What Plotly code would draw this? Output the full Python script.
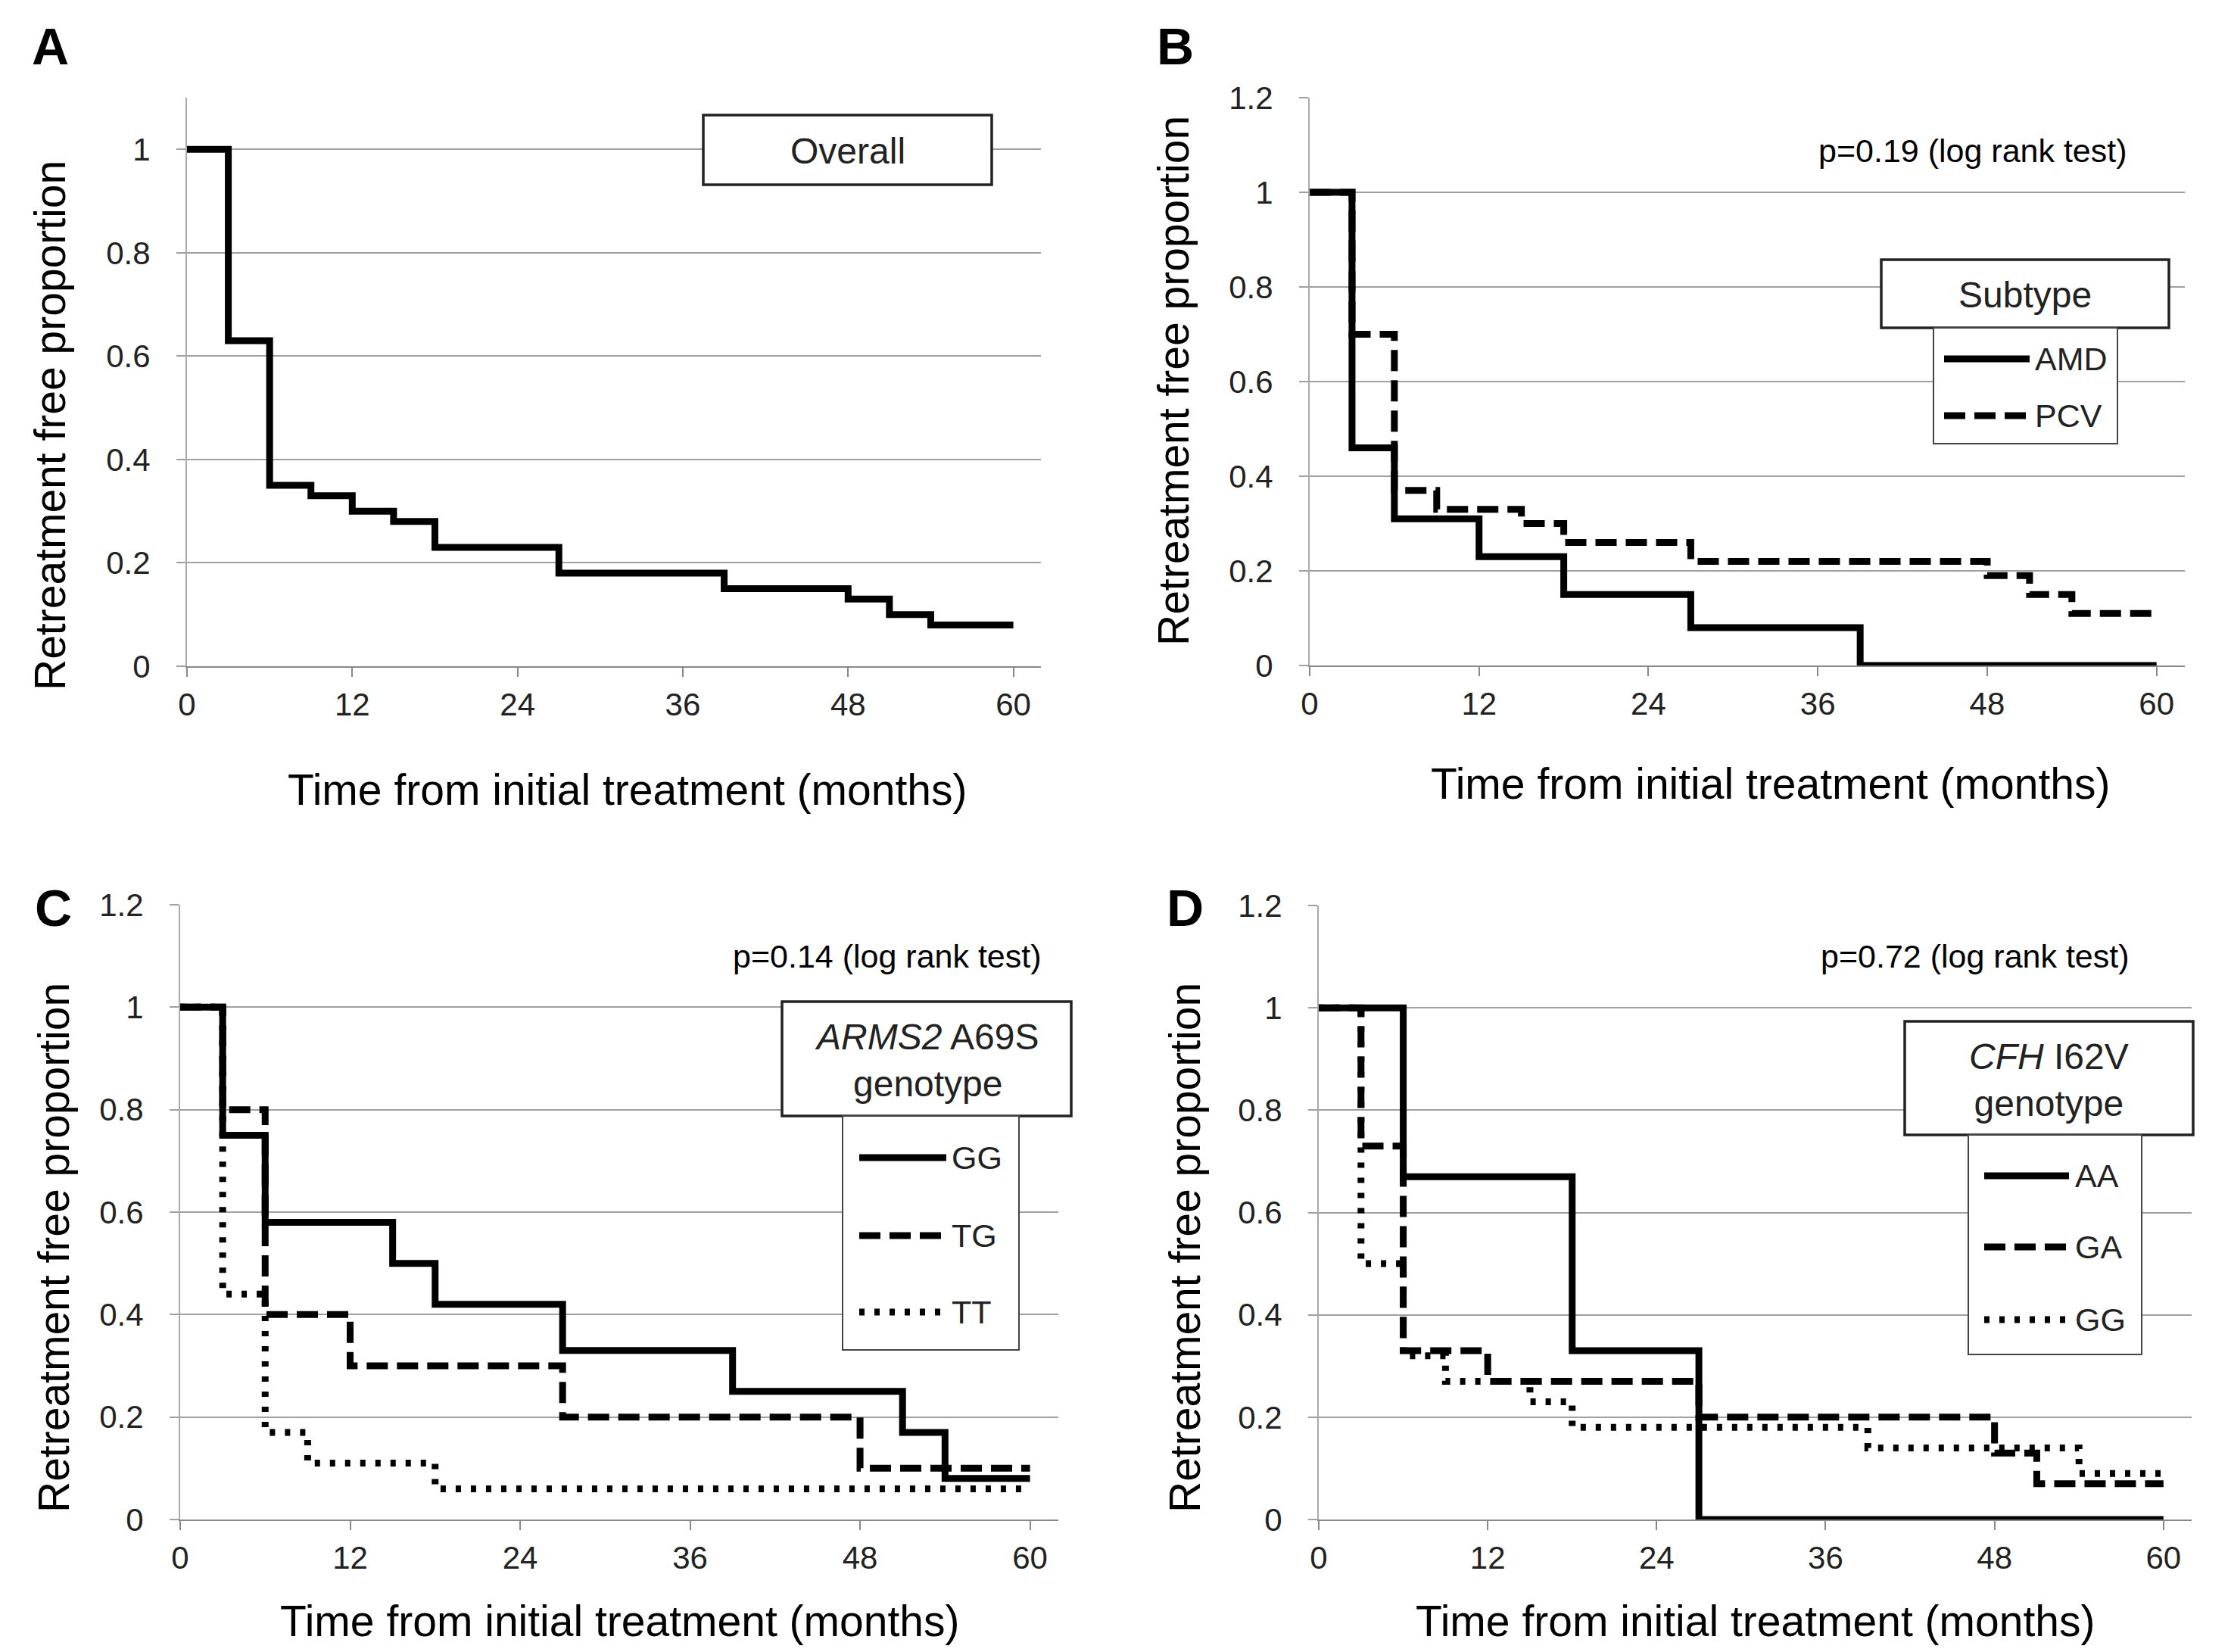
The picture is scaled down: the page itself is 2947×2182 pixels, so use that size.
import plotly.graph_objects as go

W, H = 2947, 2182
OFF = 8  # page body margin in the browser
FONT = "Liberation Sans, Arial, sans-serif"

# ---- data (months, retreatment-free proportion) ----
overall_t = [0, 3, 6, 9, 12, 15, 18, 27, 39, 48, 51, 54, 60]
overall_s = [1.0, 0.63, 0.35, 0.33, 0.30, 0.28, 0.23, 0.18, 0.15, 0.13, 0.10, 0.08, 0.08]

amd_t = [0, 3, 6, 12, 18, 27, 39, 60]
amd_s = [1.0, 0.46, 0.31, 0.23, 0.15, 0.08, 0.0, 0.0]
pcv_t = [0, 3, 6, 9, 15, 18, 27, 48, 51, 54, 60]
pcv_s = [1.0, 0.70, 0.37, 0.33, 0.30, 0.26, 0.22, 0.19, 0.15, 0.11, 0.11]

arms_gg_t = [0, 3, 6, 15, 18, 27, 39, 51, 54, 60]
arms_gg_s = [1.0, 0.75, 0.58, 0.50, 0.42, 0.33, 0.25, 0.17, 0.08, 0.08]
arms_tg_t = [0, 3, 6, 12, 27, 48, 60]
arms_tg_s = [1.0, 0.80, 0.40, 0.30, 0.20, 0.10, 0.10]
arms_tt_t = [0, 3, 6, 9, 18, 60]
arms_tt_s = [1.0, 0.44, 0.17, 0.11, 0.06, 0.06]

cfh_aa_t = [0, 6, 18, 27, 60]
cfh_aa_s = [1.0, 0.67, 0.33, 0.0, 0.0]
cfh_ga_t = [0, 3, 6, 12, 27, 48, 51, 60]
cfh_ga_s = [1.0, 0.73, 0.33, 0.27, 0.20, 0.13, 0.07, 0.07]
cfh_gg_t = [0, 3, 6, 9, 15, 18, 39, 54, 60]
cfh_gg_s = [1.0, 0.50, 0.32, 0.27, 0.23, 0.18, 0.14, 0.09, 0.09]

x_ticks = [0, 12, 24, 36, 48, 60]
y_ticks_a = [0, 0.2, 0.4, 0.6, 0.8, 1]
y_ticks = [0, 0.2, 0.4, 0.6, 0.8, 1, 1.2]
p_values = ["p=0.19 (log rank test)", "p=0.14 (log rank test)", "p=0.72 (log rank test)"]

DASH = {"solid": "solid", "dash": "28px,12px", "dot": "7px,13px"}
LW = 9

# panel geometry in pixels: plot left/right, top/bottom
panels = {
    "A": dict(x0=247, x1=1375, yt=129, yb=880, ymax=1.1, yt_vals=y_ticks_a),
    "B": dict(x0=1730, x1=2886, yt=129, yb=879, ymax=1.2, yt_vals=y_ticks),
    "C": dict(x0=238, x1=1398, yt=1195, yb=2007, ymax=1.2, yt_vals=y_ticks),
    "D": dict(x0=1742, x1=2895, yt=1196, yb=2007, ymax=1.2, yt_vals=y_ticks),
}

def px(x):
    return (x - OFF) / W

def py(y):
    return 1 - (y - OFF) / H

fig = go.Figure()

series = [
    ("A", overall_t, overall_s, "solid"),
    ("B", amd_t, amd_s, "solid"),
    ("B", pcv_t, pcv_s, "dash"),
    ("C", arms_gg_t, arms_gg_s, "solid"),
    ("C", arms_tg_t, arms_tg_s, "dash"),
    ("C", arms_tt_t, arms_tt_s, "dot"),
    ("D", cfh_aa_t, cfh_aa_s, "solid"),
    ("D", cfh_ga_t, cfh_ga_s, "dash"),
    ("D", cfh_gg_t, cfh_gg_s, "dot"),
]
axis_ids = {"A": "", "B": "2", "C": "3", "D": "4"}

for panel, t, s, style in series:
    n = axis_ids[panel]
    fig.add_trace(go.Scatter(
        x=t, y=s, mode="lines", line_shape="hv",
        line=dict(color="black", width=LW, dash=DASH[style]),
        xaxis="x" + n, yaxis="y" + n, showlegend=False, cliponaxis=False,
    ))

layout = {}
for key, g in panels.items():
    n = axis_ids[key]
    layout["xaxis" + n] = dict(
        domain=[px(g["x0"]), px(g["x1"])], range=[0, 62], automargin=False,
        tickvals=x_ticks, ticks="outside", ticklen=12, tickcolor="#888", tickwidth=2,
        showline=True, linecolor="#888", linewidth=2, showgrid=False, zeroline=False,
        tickfont=dict(family=FONT, size=42, color="#222"), ticklabelstandoff=1,
        anchor="y" + n,
    )
    yt = g["yt_vals"]
    layout["yaxis" + n] = dict(
        domain=[py(g["yb"]), py(g["yt"])], range=[0, g["ymax"]], automargin=False,
        tickvals=yt, ticktext=[("%g" % v) for v in yt],
        ticks="outside", ticklen=12, tickcolor="#a0a0a0", tickwidth=2,
        showline=True, linecolor="#aaa", linewidth=2,
        showgrid=True, gridcolor="#a0a0a0", gridwidth=2, zeroline=False,
        tickfont=dict(family=FONT, size=42, color="#222"), ticklabelstandoff=26,
        anchor="x" + n,
    )

annotations = []
shapes = []

def label(x, y, text, size, xanchor="center", angle=0, color="black"):
    annotations.append(dict(x=px(x), y=py(y), xref="paper", yref="paper", text=text,
                            xanchor=xanchor, yanchor="middle", textangle=angle,
                            showarrow=False, font=dict(family=FONT, size=size, color=color)))

# panel letters
for letter, (lx, ly) in {"A": (66, 61), "B": (1552, 61), "C": (71, 1199), "D": (1565, 1199)}.items():
    label(lx, ly, "<b>%s</b>" % letter, 68)

# axis titles
ytitle_pos = {"A": (66, 562), "B": (1550, 503), "C": (71, 1648), "D": (1565, 1648)}
xtitle_pos = {"A": (828, 1043), "B": (2338, 1035), "C": (818, 2141), "D": (2318, 2141)}
for key in panels:
    yx, yy = ytitle_pos[key]
    label(yx, yy, "Retreatment free proportion", 57, angle=-90)
    xx, xy = xtitle_pos[key]
    label(xx, xy, "Time from initial treatment (months)", 57)

# p values
for (rx, cy), txt in zip([(2812, 199), (1378, 1263), (2815, 1263)], p_values):
    label(rx, cy, txt, 43, xanchor="right")

# legend title boxes
title_boxes = [
    ((929, 152, 1310, 244), "Overall"),
    ((2485, 343, 2865, 433), "Subtype"),
    ((1033, 1323, 1415, 1474), "<i>ARMS2</i> A69S<br>genotype"),
    ((2516, 1349, 2897, 1499), "<i>CFH</i> I62V<br>genotype"),
]
for (x0, y0, x1, y1), txt in title_boxes:
    shapes.append(dict(type="rect", xref="paper", yref="paper", x0=px(x0), x1=px(x1), y0=py(y0), y1=py(y1),
                       line=dict(color="#222", width=3.5), fillcolor="white", layer="above"))
    label((x0 + x1) / 2, (y0 + y1) / 2 + 2, txt, 48, color="#222")

# legend key boxes
key_boxes = [
    ((2554, 433, 2797, 586), (2568, 2681), 2686, [(474, "AMD", "solid"), (549, "PCV", "dash")]),
    ((1113, 1474, 1346, 1783), (1135, 1250), 1255, [(1529, "GG", "solid"), (1632, "TG", "dash"), (1733, "TT", "dot")]),
    ((2600, 1499, 2829, 1789), (2621, 2733), 2739, [(1553, "AA", "solid"), (1647, "GA", "dash"), (1743, "GG", "dot")]),
]
for (x0, y0, x1, y1), (lx0, lx1), tx, items in key_boxes:
    shapes.append(dict(type="rect", xref="paper", yref="paper", x0=px(x0), x1=px(x1), y0=py(y0), y1=py(y1),
                       line=dict(color="#444", width=2), fillcolor="white", layer="above"))
    for yy, name, style in items:
        shapes.append(dict(type="line", xref="paper", yref="paper", x0=px(lx0), x1=px(lx1), y0=py(yy), y1=py(yy),
                           line=dict(color="black", width=LW, dash=DASH[style]), layer="above"))
        label(tx, yy, name, 43, xanchor="left", color="#222")

fig.update_layout(
    width=W, height=H, margin=dict(l=0, r=0, t=0, b=0, autoexpand=False),
    paper_bgcolor="white", plot_bgcolor="white", showlegend=False,
    annotations=annotations, shapes=shapes, **layout,
)

fig.write_html("out.html")
